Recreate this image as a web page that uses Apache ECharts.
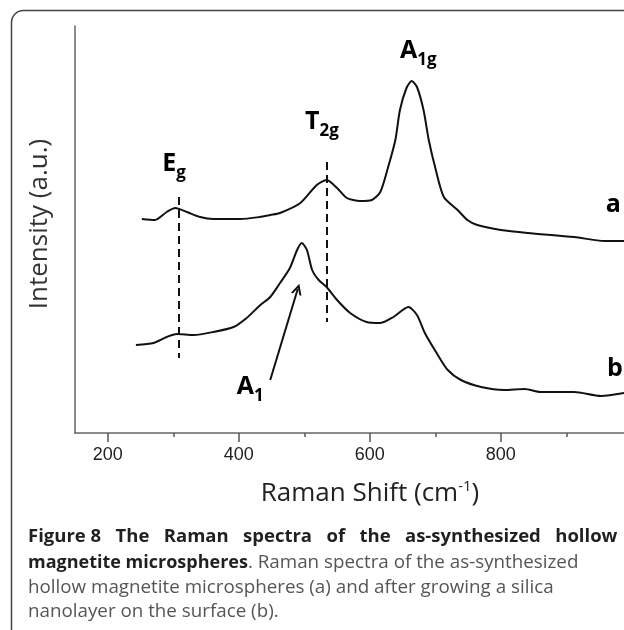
<!DOCTYPE html>
<html>
<head>
<meta charset="utf-8">
<title>Raman spectra</title>
<script src="https://cdn.jsdelivr.net/npm/echarts@6/dist/echarts.min.js"></script>
<style>
  html, body { margin: 0; padding: 0; background: #fff; }
  #chart { width: 624px; height: 630px; }
</style>
</head>
<body>
<div id="chart"></div>
<script>
// spectrum a: as-synthesized hollow magnetite microspheres
const shiftA = [252, 272, 290, 303, 321, 341, 361, 402, 432, 448, 463, 494, 519, 534, 550, 565, 585, 603, 616, 628, 639, 646, 656, 664, 672, 682, 690, 700, 713, 734, 749, 764, 800, 841, 912, 958, 988]
const intensityA = [214, 213, 221, 225, 221, 216, 214, 214, 216, 218, 220, 230, 248, 253, 245, 235, 232, 233, 241, 266, 293, 323, 345, 352, 346, 323, 293, 265, 236, 223, 213, 208, 203, 200, 196, 192, 192]

// spectrum b: after growing the silica nanolayer
const shiftB = [243, 270, 290, 305, 331, 361, 392, 412, 433, 448, 463, 478, 489, 496, 504, 512, 522, 534, 550, 570, 595, 616, 636, 659, 672, 684, 702, 719, 739, 770, 805, 836, 861, 912, 953, 988]
const intensityB = [88, 90, 96, 99, 98, 101, 106, 115, 128, 136, 150, 165, 183, 190, 183, 163, 153, 146, 133, 120, 111, 110, 116, 126, 118, 100, 80, 63, 53, 46, 43, 44, 41, 41, 37, 40]

// axis ticks
const majorTicks = [200, 400, 600, 800]
const minorTicks = [300, 500, 700, 900]

// band assignments: dashed guide lines (shift, top, bottom)
const guideEg = [308, 236, 75]
const guideT2g = [534, 271, 111]

const FONT = 'Open Sans'
const chart = echarts.init(document.getElementById('chart'))

function zip(xs, ys) {
  return xs.map((x, i) => [x, ys[i]])
}

const labelRich = {
  m: { fontFamily: FONT, fontWeight: 'bold', fontSize: 25, color: '#000', lineHeight: 40 },
  s: { fontFamily: FONT, fontWeight: 'bold', fontSize: 17, color: '#000', lineHeight: 40, padding: [18, 0, 0, 0] }
}

function peakLabel(coord, text) {
  return {
    coord: coord,
    symbolSize: 0,
    label: {
      show: true,
      position: [0, 0],
      align: 'left',
      verticalAlign: 'middle',
      formatter: text,
      rich: labelRich
    }
  }
}

const option = {
  animation: false,
  grid: { left: 75, top: 26, right: 0, bottom: 197 },
  xAxis: [
    {
      type: 'value',
      min: 150,
      max: 988,
      axisLine: { lineStyle: { color: '#666', width: 1.5 } },
      axisTick: { customValues: majorTicks, length: 9, lineStyle: { color: '#555', width: 1.5 } },
      axisLabel: { customValues: majorTicks, margin: 13, color: '#222', fontFamily: 'Liberation Sans', fontSize: 18 },
      splitLine: { show: false }
    },
    {
      type: 'value',
      min: 150,
      max: 988,
      position: 'bottom',
      axisLine: { show: false },
      axisTick: { customValues: minorTicks, length: 4, lineStyle: { color: '#555', width: 1.5 } },
      axisLabel: { show: false },
      splitLine: { show: false }
    }
  ],
  yAxis: {
    type: 'value',
    min: 0,
    max: 407,
    axisLine: { show: true, lineStyle: { color: '#666', width: 1.5 } },
    axisTick: { show: false },
    axisLabel: { show: false },
    splitLine: { show: false }
  },
  series: [
    {
      name: 'a',
      type: 'line',
      data: zip(shiftA, intensityA),
      showSymbol: false,
      smooth: 0.25,
      lineStyle: { color: '#111', width: 2 },
      markLine: {
        silent: true,
        symbol: 'none',
        label: { show: false },
        lineStyle: { color: '#111', width: 2, type: [8, 5] },
        data: [
          [{ coord: [guideEg[0], guideEg[1]] }, { coord: [guideEg[0], guideEg[2]] }],
          [{ coord: [guideT2g[0], guideT2g[1]] }, { coord: [guideT2g[0], guideT2g[2]] }]
        ]
      },
      markPoint: {
        silent: true,
        data: [
          peakLabel([283, 269], '{m|E}{s|g}'),
          peakLabel([501, 311], '{m|T}{s|2g}'),
          peakLabel([646, 382], '{m|A}{s|1g}'),
          peakLabel([960, 228], '{m|a}')
        ]
      }
    },
    {
      name: 'b',
      type: 'line',
      data: zip(shiftB, intensityB),
      showSymbol: false,
      smooth: 0.25,
      lineStyle: { color: '#111', width: 2 },
      markLine: {
        silent: true,
        symbol: ['none', 'path://M0,10 L5,0 L10,10 L8,10 L5,4 L2,10 Z'],
        symbolSize: [11, 11],
        label: { show: false },
        lineStyle: { color: '#111', width: 2, type: 'solid' },
        data: [
          [{ coord: [448, 53] }, { coord: [490, 144] }]
        ]
      },
      markPoint: {
        silent: true,
        data: [
          peakLabel([397, 46], '{m|A}{s|1}'),
          peakLabel([962, 64], '{m|b}')
        ]
      }
    }
  ],
  graphic: [
    {
      type: 'rect',
      shape: { x: 11.5, y: 10.5, width: 700, height: 700, r: 12 },
      style: { fill: null, stroke: '#444', lineWidth: 1.5 }
    },
    {
      type: 'text',
      x: 40,
      y: 224,
      rotation: Math.PI / 2,
      style: {
        text: 'Intensity (a.u.)',
        fontFamily: FONT,
        fontSize: 26,
        fill: '#333',
        align: 'center',
        verticalAlign: 'middle'
      }
    },
    {
      type: 'text',
      x: 370,
      y: 494,
      style: {
        text: '{n|Raman Shift (cm}{s|-1}{n|)}',
        align: 'center',
        verticalAlign: 'middle',
        rich: {
          n: { fontFamily: FONT, fontSize: 26, fill: '#222', lineHeight: 34 },
          s: { fontFamily: FONT, fontSize: 15, fill: '#222', lineHeight: 34, padding: [0, 0, 14, 0] }
        }
      }
    },
    {
      type: 'text',
      x: 28,
      y: 537,
      style: {
        text: 'Figure 8   The   Raman   spectra   of   the   as-synthesized   hollow',
        fontFamily: FONT,
        fontWeight: 'bold',
        fontSize: 18.5,
        fill: '#231f20',
        verticalAlign: 'middle'
      }
    },
    {
      type: 'text',
      x: 28,
      y: 563,
      style: {
        text: '{b|magnetite microspheres}{r|. Raman spectra of the as-synthesized}',
        verticalAlign: 'middle',
        rich: {
          b: { fontFamily: FONT, fontWeight: 'bold', fontSize: 18, fill: '#231f20' },
          r: { fontFamily: FONT, fontSize: 18.8, fill: '#555' }
        }
      }
    },
    {
      type: 'text',
      x: 28,
      y: 588,
      style: {
        text: 'hollow magnetite microspheres (a) and after growing a silica',
        fontFamily: FONT,
        fontSize: 18.8,
        fill: '#555',
        verticalAlign: 'middle'
      }
    },
    {
      type: 'text',
      x: 28,
      y: 612,
      style: {
        text: 'nanolayer on the surface (b).',
        fontFamily: FONT,
        fontSize: 18.8,
        fill: '#555',
        verticalAlign: 'middle'
      }
    }
  ]
}

chart.setOption(option)
</script>
</body>
</html>
